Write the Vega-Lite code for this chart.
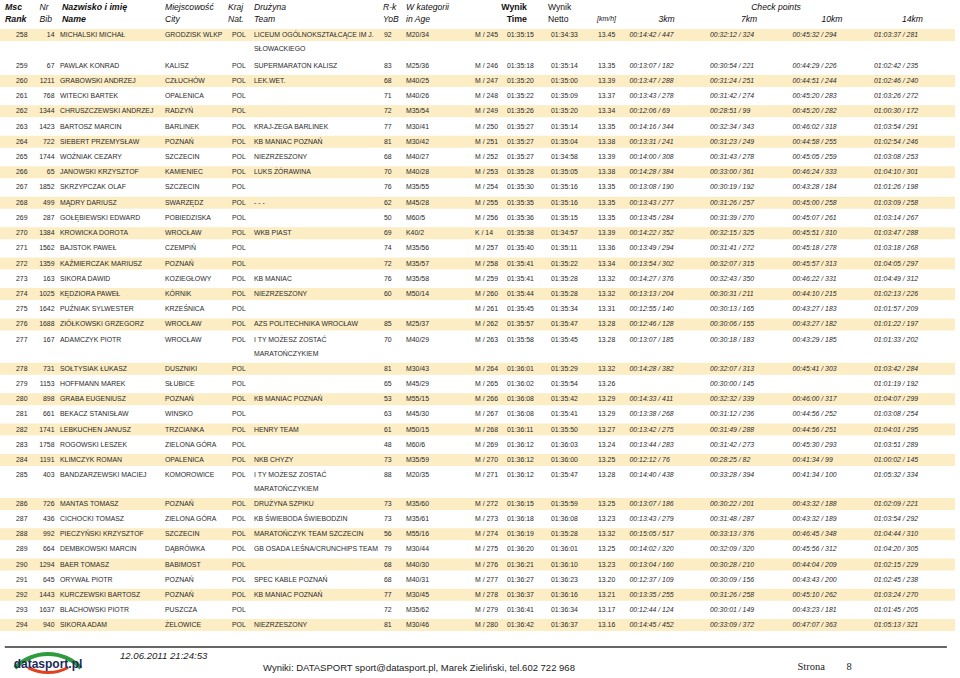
{
  "$schema": "https://vega.github.io/schema/vega-lite/v6.json",
  "width": 960,
  "height": 678,
  "padding": 0,
  "autosize": {"type": "none"},
  "background": "white",
  "config": {"view": {"stroke": null}, "text": {"font": "Liberation Sans", "fontSize": 6.9, "baseline": "middle", "align": "left", "fill": "#2a2a2a"}},
  "datasets": {
    "rows": [
      {"msc": 258, "nr": "14", "name": "MICHALSKI MICHAŁ", "city": "GRODZISK WLKP", "nat": "POL", "team": "LICEUM OGÓLNOKSZTAŁCĄCE IM J.\nSŁOWACKIEGO", "yob": "92", "cat": "M20/34", "mk": "M / 245", "time": "01:35:15", "netto": "01:34:33", "kmh": "13.45", "c3": "00:14:42 / 447", "c7": "00:32:12 / 324", "c10": "00:45:32 / 294", "c14": "01:03:37 / 281"},
      {"msc": 259, "nr": "67", "name": "PAWLAK KONRAD", "city": "KALISZ", "nat": "POL", "team": "SUPERMARATON KALISZ", "yob": "83", "cat": "M25/36", "mk": "M / 246", "time": "01:35:18", "netto": "01:35:14", "kmh": "13.35", "c3": "00:13:07 / 182", "c7": "00:30:54 / 221", "c10": "00:44:29 / 226", "c14": "01:02:42 / 235"},
      {"msc": 260, "nr": "1211", "name": "GRABOWSKI ANDRZEJ", "city": "CZŁUCHÓW", "nat": "POL", "team": "LEK.WET.", "yob": "68", "cat": "M40/25", "mk": "M / 247", "time": "01:35:20", "netto": "01:35:00", "kmh": "13.39", "c3": "00:13:47 / 288", "c7": "00:31:24 / 251", "c10": "00:44:51 / 244", "c14": "01:02:46 / 240"},
      {"msc": 261, "nr": "768", "name": "WITECKI BARTEK", "city": "OPALENICA", "nat": "POL", "team": "", "yob": "71", "cat": "M40/26", "mk": "M / 248", "time": "01:35:22", "netto": "01:35:09", "kmh": "13.37", "c3": "00:13:43 / 278", "c7": "00:31:42 / 274", "c10": "00:45:20 / 283", "c14": "01:03:26 / 272"},
      {"msc": 262, "nr": "1344", "name": "CHRUSZCZEWSKI ANDRZEJ", "city": "RADZYŃ", "nat": "POL", "team": "", "yob": "72", "cat": "M35/54", "mk": "M / 249", "time": "01:35:26", "netto": "01:35:20", "kmh": "13.34", "c3": "00:12:06 / 69", "c7": "00:28:51 / 99", "c10": "00:45:20 / 282", "c14": "01:00:30 / 172"},
      {"msc": 263, "nr": "1423", "name": "BARTOSZ MARCIN", "city": "BARLINEK", "nat": "POL", "team": "KRAJ-ZEGA BARLINEK", "yob": "77", "cat": "M30/41", "mk": "M / 250", "time": "01:35:27", "netto": "01:35:14", "kmh": "13.35", "c3": "00:14:16 / 344", "c7": "00:32:34 / 343", "c10": "00:46:02 / 318", "c14": "01:03:54 / 291"},
      {"msc": 264, "nr": "722", "name": "SIEBERT PRZEMYSŁAW", "city": "POZNAŃ", "nat": "POL", "team": "KB MANIAC POZNAŃ", "yob": "81", "cat": "M30/42", "mk": "M / 251", "time": "01:35:27", "netto": "01:35:04", "kmh": "13.38", "c3": "00:13:31 / 241", "c7": "00:31:23 / 249", "c10": "00:44:58 / 255", "c14": "01:02:54 / 246"},
      {"msc": 265, "nr": "1744", "name": "WOŹNIAK CEZARY", "city": "SZCZECIN", "nat": "POL", "team": "NIEZRZESZONY", "yob": "68", "cat": "M40/27", "mk": "M / 252", "time": "01:35:27", "netto": "01:34:58", "kmh": "13.39", "c3": "00:14:00 / 308", "c7": "00:31:43 / 278", "c10": "00:45:05 / 259", "c14": "01:03:08 / 253"},
      {"msc": 266, "nr": "65", "name": "JANOWSKI KRZYSZTOF", "city": "KAMIENIEC", "nat": "POL", "team": "LUKS ŻÓRAWINA", "yob": "70", "cat": "M40/28", "mk": "M / 253", "time": "01:35:28", "netto": "01:35:05", "kmh": "13.38", "c3": "00:14:28 / 384", "c7": "00:33:00 / 361", "c10": "00:46:24 / 333", "c14": "01:04:10 / 301"},
      {"msc": 267, "nr": "1852", "name": "SKRZYPCZAK OLAF", "city": "SZCZECIN", "nat": "POL", "team": "", "yob": "76", "cat": "M35/55", "mk": "M / 254", "time": "01:35:30", "netto": "01:35:16", "kmh": "13.35", "c3": "00:13:08 / 190", "c7": "00:30:19 / 192", "c10": "00:43:28 / 184", "c14": "01:01:26 / 198"},
      {"msc": 268, "nr": "499", "name": "MĄDRY DARIUSZ", "city": "SWARZĘDZ", "nat": "POL", "team": "- - -", "yob": "62", "cat": "M45/28", "mk": "M / 255", "time": "01:35:35", "netto": "01:35:16", "kmh": "13.35", "c3": "00:13:43 / 277", "c7": "00:31:26 / 257", "c10": "00:45:00 / 258", "c14": "01:03:09 / 258"},
      {"msc": 269, "nr": "287", "name": "GOŁĘBIEWSKI EDWARD", "city": "POBIEDZISKA", "nat": "POL", "team": "", "yob": "50", "cat": "M60/5", "mk": "M / 256", "time": "01:35:36", "netto": "01:35:15", "kmh": "13.35", "c3": "00:13:45 / 284", "c7": "00:31:39 / 270", "c10": "00:45:07 / 261", "c14": "01:03:14 / 267"},
      {"msc": 270, "nr": "1384", "name": "KROWICKA DOROTA", "city": "WROCŁAW", "nat": "POL", "team": "WKB PIAST", "yob": "69", "cat": "K40/2", "mk": "K / 14", "time": "01:35:38", "netto": "01:34:57", "kmh": "13.39", "c3": "00:14:22 / 352", "c7": "00:32:15 / 325", "c10": "00:45:51 / 310", "c14": "01:03:47 / 288"},
      {"msc": 271, "nr": "1562", "name": "BAJSTOK PAWEŁ", "city": "CZEMPIŃ", "nat": "POL", "team": "", "yob": "74", "cat": "M35/56", "mk": "M / 257", "time": "01:35:40", "netto": "01:35:11", "kmh": "13.36", "c3": "00:13:49 / 294", "c7": "00:31:41 / 272", "c10": "00:45:18 / 278", "c14": "01:03:18 / 268"},
      {"msc": 272, "nr": "1359", "name": "KAŹMIERCZAK MARIUSZ", "city": "POZNAŃ", "nat": "POL", "team": "", "yob": "72", "cat": "M35/57", "mk": "M / 258", "time": "01:35:41", "netto": "01:35:22", "kmh": "13.34", "c3": "00:13:54 / 302", "c7": "00:32:07 / 315", "c10": "00:45:57 / 313", "c14": "01:04:05 / 297"},
      {"msc": 273, "nr": "163", "name": "SIKORA DAWID", "city": "KOZIEGŁOWY", "nat": "POL", "team": "KB MANIAC", "yob": "76", "cat": "M35/58", "mk": "M / 259", "time": "01:35:41", "netto": "01:35:28", "kmh": "13.32", "c3": "00:14:27 / 376", "c7": "00:32:43 / 350", "c10": "00:46:22 / 331", "c14": "01:04:49 / 312"},
      {"msc": 274, "nr": "1025", "name": "KĘDZIORA PAWEŁ", "city": "KÓRNIK", "nat": "POL", "team": "NIEZRZESZONY", "yob": "60", "cat": "M50/14", "mk": "M / 260", "time": "01:35:44", "netto": "01:35:28", "kmh": "13.32", "c3": "00:13:13 / 204", "c7": "00:30:31 / 211", "c10": "00:44:10 / 215", "c14": "01:02:13 / 226"},
      {"msc": 275, "nr": "1642", "name": "PUŹNIAK SYLWESTER", "city": "KRZEŚNICA", "nat": "POL", "team": "", "yob": "", "cat": "", "mk": "M / 261", "time": "01:35:45", "netto": "01:35:34", "kmh": "13.31", "c3": "00:12:55 / 140", "c7": "00:30:13 / 165", "c10": "00:43:27 / 183", "c14": "01:01:57 / 209"},
      {"msc": 276, "nr": "1688", "name": "ZIÓŁKOWSKI GRZEGORZ", "city": "WROCŁAW", "nat": "POL", "team": "AZS POLITECHNIKA WROCŁAW", "yob": "85", "cat": "M25/37", "mk": "M / 262", "time": "01:35:57", "netto": "01:35:47", "kmh": "13.28", "c3": "00:12:46 / 128", "c7": "00:30:06 / 155", "c10": "00:43:27 / 182", "c14": "01:01:22 / 197"},
      {"msc": 277, "nr": "167", "name": "ADAMCZYK PIOTR", "city": "WROCŁAW", "nat": "POL", "team": "I TY MOŻESZ ZOSTAĆ\nMARATOŃCZYKIEM", "yob": "70", "cat": "M40/29", "mk": "M / 263", "time": "01:35:58", "netto": "01:35:45", "kmh": "13.28", "c3": "00:13:07 / 185", "c7": "00:30:18 / 183", "c10": "00:43:29 / 185", "c14": "01:01:33 / 202"},
      {"msc": 278, "nr": "731", "name": "SOŁTYSIAK ŁUKASZ", "city": "DUSZNIKI", "nat": "POL", "team": "", "yob": "81", "cat": "M30/43", "mk": "M / 264", "time": "01:36:01", "netto": "01:35:29", "kmh": "13.32", "c3": "00:14:28 / 382", "c7": "00:32:07 / 313", "c10": "00:45:41 / 303", "c14": "01:03:42 / 284"},
      {"msc": 279, "nr": "1153", "name": "HOFFMANN MAREK", "city": "SŁUBICE", "nat": "POL", "team": "", "yob": "65", "cat": "M45/29", "mk": "M / 265", "time": "01:36:02", "netto": "01:35:54", "kmh": "13.26", "c3": "", "c7": "00:30:00 / 145", "c10": "", "c14": "01:01:19 / 192"},
      {"msc": 280, "nr": "898", "name": "GRABA EUGENIUSZ", "city": "POZNAŃ", "nat": "POL", "team": "KB MANIAC POZNAŃ", "yob": "53", "cat": "M55/15", "mk": "M / 266", "time": "01:36:08", "netto": "01:35:42", "kmh": "13.29", "c3": "00:14:33 / 411", "c7": "00:32:32 / 339", "c10": "00:46:00 / 317", "c14": "01:04:07 / 299"},
      {"msc": 281, "nr": "661", "name": "BEKACZ STANISŁAW", "city": "WINSKO", "nat": "POL", "team": "", "yob": "63", "cat": "M45/30", "mk": "M / 267", "time": "01:36:08", "netto": "01:35:41", "kmh": "13.29", "c3": "00:13:38 / 268", "c7": "00:31:12 / 236", "c10": "00:44:56 / 252", "c14": "01:03:08 / 254"},
      {"msc": 282, "nr": "1741", "name": "LEBKUCHEN JANUSZ", "city": "TRZCIANKA", "nat": "POL", "team": "HENRY TEAM", "yob": "61", "cat": "M50/15", "mk": "M / 268", "time": "01:36:11", "netto": "01:35:50", "kmh": "13.27", "c3": "00:13:42 / 275", "c7": "00:31:49 / 288", "c10": "00:44:56 / 251", "c14": "01:04:01 / 295"},
      {"msc": 283, "nr": "1758", "name": "ROGOWSKI LESZEK", "city": "ZIELONA GÓRA", "nat": "POL", "team": "", "yob": "48", "cat": "M60/6", "mk": "M / 269", "time": "01:36:12", "netto": "01:36:03", "kmh": "13.24", "c3": "00:13:44 / 283", "c7": "00:31:42 / 273", "c10": "00:45:30 / 293", "c14": "01:03:51 / 289"},
      {"msc": 284, "nr": "1191", "name": "KLIMCZYK ROMAN", "city": "OPALENICA", "nat": "POL", "team": "NKB CHYZY", "yob": "73", "cat": "M35/59", "mk": "M / 270", "time": "01:36:12", "netto": "01:36:00", "kmh": "13.25", "c3": "00:12:12 / 76", "c7": "00:28:25 / 82", "c10": "00:41:34 / 99", "c14": "01:00:02 / 145"},
      {"msc": 285, "nr": "403", "name": "BANDZARZEWSKI MACIEJ", "city": "KOMOROWICE", "nat": "POL", "team": "I TY MOŻESZ ZOSTAĆ\nMARATOŃCZYKIEM", "yob": "88", "cat": "M20/35", "mk": "M / 271", "time": "01:36:12", "netto": "01:35:47", "kmh": "13.28", "c3": "00:14:40 / 438", "c7": "00:33:28 / 394", "c10": "00:41:34 / 100", "c14": "01:05:32 / 334"},
      {"msc": 286, "nr": "726", "name": "MANTAS TOMASZ", "city": "POZNAŃ", "nat": "POL", "team": "DRUŻYNA SZPIKU", "yob": "73", "cat": "M35/60", "mk": "M / 272", "time": "01:36:15", "netto": "01:35:59", "kmh": "13.25", "c3": "00:13:07 / 186", "c7": "00:30:22 / 201", "c10": "00:43:32 / 188", "c14": "01:02:09 / 221"},
      {"msc": 287, "nr": "436", "name": "CICHOCKI TOMASZ", "city": "ZIELONA GÓRA", "nat": "POL", "team": "KB ŚWIEBODA ŚWIEBODZIN", "yob": "73", "cat": "M35/61", "mk": "M / 273", "time": "01:36:18", "netto": "01:36:08", "kmh": "13.23", "c3": "00:13:43 / 279", "c7": "00:31:48 / 287", "c10": "00:43:32 / 189", "c14": "01:03:54 / 292"},
      {"msc": 288, "nr": "992", "name": "PIECZYŃSKI KRZYSZTOF", "city": "SZCZECIN", "nat": "POL", "team": "MARATOŃCZYK TEAM SZCZECIN", "yob": "56", "cat": "M55/16", "mk": "M / 274", "time": "01:36:19", "netto": "01:35:28", "kmh": "13.32", "c3": "00:15:05 / 517", "c7": "00:33:13 / 376", "c10": "00:46:45 / 348", "c14": "01:04:44 / 310"},
      {"msc": 289, "nr": "664", "name": "DEMBKOWSKI MARCIN", "city": "DĄBRÓWKA", "nat": "POL", "team": "GB OSADA LEŚNA/CRUNCHIPS TEAM", "yob": "79", "cat": "M30/44", "mk": "M / 275", "time": "01:36:20", "netto": "01:36:01", "kmh": "13.25", "c3": "00:14:02 / 320", "c7": "00:32:09 / 320", "c10": "00:45:56 / 312", "c14": "01:04:20 / 305"},
      {"msc": 290, "nr": "1294", "name": "BAER TOMASZ", "city": "BABIMOST", "nat": "POL", "team": "", "yob": "68", "cat": "M40/30", "mk": "M / 276", "time": "01:36:21", "netto": "01:36:10", "kmh": "13.23", "c3": "00:13:04 / 160", "c7": "00:30:28 / 210", "c10": "00:44:04 / 209", "c14": "01:02:15 / 229"},
      {"msc": 291, "nr": "645", "name": "ORYWAŁ PIOTR", "city": "POZNAŃ", "nat": "POL", "team": "SPEC KABLE POZNAŃ", "yob": "68", "cat": "M40/31", "mk": "M / 277", "time": "01:36:27", "netto": "01:36:23", "kmh": "13.20", "c3": "00:12:37 / 109", "c7": "00:30:09 / 156", "c10": "00:43:43 / 200", "c14": "01:02:45 / 238"},
      {"msc": 292, "nr": "1443", "name": "KURCZEWSKI BARTOSZ", "city": "POZNAŃ", "nat": "POL", "team": "KB MANIAC POZNAŃ", "yob": "77", "cat": "M30/45", "mk": "M / 278", "time": "01:36:37", "netto": "01:36:16", "kmh": "13.21", "c3": "00:13:35 / 255", "c7": "00:31:26 / 258", "c10": "00:45:10 / 262", "c14": "01:03:24 / 270"},
      {"msc": 293, "nr": "1637", "name": "BLACHOWSKI PIOTR", "city": "PUSZCZA", "nat": "POL", "team": "", "yob": "72", "cat": "M35/62", "mk": "M / 279", "time": "01:36:41", "netto": "01:36:34", "kmh": "13.17", "c3": "00:12:44 / 124", "c7": "00:30:01 / 149", "c10": "00:43:23 / 181", "c14": "01:01:45 / 205"},
      {"msc": 294, "nr": "940", "name": "SIKORA ADAM", "city": "ŻELOWICE", "nat": "POL", "team": "NIEZRZESZONY", "yob": "81", "cat": "M30/46", "mk": "M / 280", "time": "01:36:42", "netto": "01:36:37", "kmh": "13.16", "c3": "00:14:45 / 452", "c7": "00:33:09 / 372", "c10": "00:47:07 / 363", "c14": "01:05:13 / 321"}
    ]
  },
  "data": {"name": "rows"},
  "layer": [
    {
      "transform": [{"filter": "datum.msc % 2 == 0"}],
      "mark": {"type": "rule", "color": "#FCEDC5", "strokeWidth": 12, "strokeCap": "butt"},
      "encoding": {
        "x": {"datum": -1, "type": "quantitative", "scale": {"domain": [-1, 0, 1, 2, 3, 4, 5, 6, 7, 8, 9, 10, 11, 12, 13, 14, 15, 16], "range": [0, 16, 54.5, 60, 165, 232, 254, 384, 406, 475, 507, 551, 598, 629.5, 710, 792.5, 874, 955], "zero": false, "nice": false}, "axis": null},
        "x2": {"datum": 16},
        "y": {"field": "msc", "type": "quantitative", "scale": {"domain": [256, 257, 258, 259, 277, 278, 285, 286, 294, 295, 296, 297], "range": [7, 19, 35, 65.7, 339.7, 368.7, 475.3, 504, 625, 647, 656, 668], "zero": false, "nice": false}, "axis": null}
      }
    },
    {"mark": {"type": "text"}, "encoding": {"x": {"datum": 0, "type": "quantitative"}, "y": {"field": "msc", "type": "quantitative"}, "text": {"field": "msc", "type": "nominal"}}},
    {"mark": {"type": "text", "align": "right"}, "encoding": {"x": {"datum": 1, "type": "quantitative"}, "y": {"field": "msc", "type": "quantitative"}, "text": {"field": "nr", "type": "nominal"}}},
    {"mark": {"type": "text"}, "encoding": {"x": {"datum": 2, "type": "quantitative"}, "y": {"field": "msc", "type": "quantitative"}, "text": {"field": "name", "type": "nominal"}}},
    {"mark": {"type": "text"}, "encoding": {"x": {"datum": 3, "type": "quantitative"}, "y": {"field": "msc", "type": "quantitative"}, "text": {"field": "city", "type": "nominal"}}},
    {"mark": {"type": "text"}, "encoding": {"x": {"datum": 4, "type": "quantitative"}, "y": {"field": "msc", "type": "quantitative"}, "text": {"field": "nat", "type": "nominal"}}},
    {"mark": {"type": "text", "lineBreak": "\n", "lineHeight": 14}, "encoding": {"x": {"datum": 5, "type": "quantitative"}, "y": {"field": "msc", "type": "quantitative"}, "text": {"field": "team", "type": "nominal"}}},
    {"mark": {"type": "text"}, "encoding": {"x": {"datum": 6, "type": "quantitative"}, "y": {"field": "msc", "type": "quantitative"}, "text": {"field": "yob", "type": "nominal"}}},
    {"mark": {"type": "text"}, "encoding": {"x": {"datum": 7, "type": "quantitative"}, "y": {"field": "msc", "type": "quantitative"}, "text": {"field": "cat", "type": "nominal"}}},
    {"mark": {"type": "text"}, "encoding": {"x": {"datum": 8, "type": "quantitative"}, "y": {"field": "msc", "type": "quantitative"}, "text": {"field": "mk", "type": "nominal"}}},
    {"mark": {"type": "text"}, "encoding": {"x": {"datum": 9, "type": "quantitative"}, "y": {"field": "msc", "type": "quantitative"}, "text": {"field": "time", "type": "nominal"}}},
    {"mark": {"type": "text"}, "encoding": {"x": {"datum": 10, "type": "quantitative"}, "y": {"field": "msc", "type": "quantitative"}, "text": {"field": "netto", "type": "nominal"}}},
    {"mark": {"type": "text"}, "encoding": {"x": {"datum": 11, "type": "quantitative"}, "y": {"field": "msc", "type": "quantitative"}, "text": {"field": "kmh", "type": "nominal"}}},
    {"mark": {"type": "text", "fontStyle": "italic"}, "encoding": {"x": {"datum": 12, "type": "quantitative"}, "y": {"field": "msc", "type": "quantitative"}, "text": {"field": "c3", "type": "nominal"}}},
    {"mark": {"type": "text", "fontStyle": "italic"}, "encoding": {"x": {"datum": 13, "type": "quantitative"}, "y": {"field": "msc", "type": "quantitative"}, "text": {"field": "c7", "type": "nominal"}}},
    {"mark": {"type": "text", "fontStyle": "italic"}, "encoding": {"x": {"datum": 14, "type": "quantitative"}, "y": {"field": "msc", "type": "quantitative"}, "text": {"field": "c10", "type": "nominal"}}},
    {"mark": {"type": "text", "fontStyle": "italic"}, "encoding": {"x": {"datum": 15, "type": "quantitative"}, "y": {"field": "msc", "type": "quantitative"}, "text": {"field": "c14", "type": "nominal"}}},

    {"data": {"values": [{}]}, "mark": {"type": "text", "fontSize": 8.8, "fontStyle": "italic", "fontWeight": "bold", "lineHeight": 12, "dx": -11, "fill": "#111"}, "encoding": {"x": {"datum": 0, "type": "quantitative"}, "y": {"datum": 256, "type": "quantitative"}, "text": {"value": ["Msc", "Rank"]}}},
    {"data": {"values": [{}]}, "mark": {"type": "text", "fontSize": 8.6, "fontStyle": "italic", "lineHeight": 12, "dx": -15, "fill": "#111"}, "encoding": {"x": {"datum": 1, "type": "quantitative"}, "y": {"datum": 256, "type": "quantitative"}, "text": {"value": ["Nr", "Bib"]}}},
    {"data": {"values": [{}]}, "mark": {"type": "text", "fontSize": 8.8, "fontStyle": "italic", "fontWeight": "bold", "lineHeight": 12, "dx": 2, "fill": "#111"}, "encoding": {"x": {"datum": 2, "type": "quantitative"}, "y": {"datum": 256, "type": "quantitative"}, "text": {"value": ["Nazwisko i imię", "Name"]}}},
    {"data": {"values": [{}]}, "mark": {"type": "text", "fontSize": 8.6, "fontStyle": "italic", "lineHeight": 12, "dx": 0, "fill": "#111"}, "encoding": {"x": {"datum": 3, "type": "quantitative"}, "y": {"datum": 256, "type": "quantitative"}, "text": {"value": ["Miejscowość", "City"]}}},
    {"data": {"values": [{}]}, "mark": {"type": "text", "fontSize": 8.6, "fontStyle": "italic", "lineHeight": 12, "dx": -4, "fill": "#111"}, "encoding": {"x": {"datum": 4, "type": "quantitative"}, "y": {"datum": 256, "type": "quantitative"}, "text": {"value": ["Kraj", "Nat."]}}},
    {"data": {"values": [{}]}, "mark": {"type": "text", "fontSize": 8.6, "fontStyle": "italic", "lineHeight": 12, "dx": 0, "fill": "#111"}, "encoding": {"x": {"datum": 5, "type": "quantitative"}, "y": {"datum": 256, "type": "quantitative"}, "text": {"value": ["Drużyna", "Team"]}}},
    {"data": {"values": [{}]}, "mark": {"type": "text", "fontSize": 8.6, "fontStyle": "italic", "lineHeight": 12, "dx": -1, "fill": "#111"}, "encoding": {"x": {"datum": 6, "type": "quantitative"}, "y": {"datum": 256, "type": "quantitative"}, "text": {"value": ["R-k", "YoB"]}}},
    {"data": {"values": [{}]}, "mark": {"type": "text", "fontSize": 8.6, "fontStyle": "italic", "lineHeight": 12, "dx": 0, "fill": "#111"}, "encoding": {"x": {"datum": 7, "type": "quantitative"}, "y": {"datum": 256, "type": "quantitative"}, "text": {"value": ["W kategorii", "in Age"]}}},
    {"data": {"values": [{}]}, "mark": {"type": "text", "fontSize": 8.8, "fontWeight": "bold", "align": "right", "lineHeight": 12, "dx": 20, "fill": "#111"}, "encoding": {"x": {"datum": 9, "type": "quantitative"}, "y": {"datum": 256, "type": "quantitative"}, "text": {"value": ["Wynik", "Time"]}}},
    {"data": {"values": [{}]}, "mark": {"type": "text", "fontSize": 8.6, "lineHeight": 12, "dx": -3, "fill": "#111"}, "encoding": {"x": {"datum": 10, "type": "quantitative"}, "y": {"datum": 256, "type": "quantitative"}, "text": {"value": ["Wynik", "Netto"]}}},
    {"data": {"values": [{}]}, "mark": {"type": "text", "fontSize": 7, "fontStyle": "italic", "dx": -1, "fill": "#111"}, "encoding": {"x": {"datum": 11, "type": "quantitative"}, "y": {"datum": 257, "type": "quantitative"}, "text": {"value": "[km/h]"}}},
    {"data": {"values": [{}]}, "mark": {"type": "text", "fontSize": 8.6, "fontStyle": "italic", "align": "center", "dx": 0, "fill": "#111"}, "encoding": {"x": {"datum": 13.8, "type": "quantitative"}, "y": {"datum": 256, "type": "quantitative"}, "text": {"value": "Check points"}}},
    {"data": {"values": [{}]}, "mark": {"type": "text", "fontSize": 8.6, "fontStyle": "italic", "dx": 29, "fill": "#111"}, "encoding": {"x": {"datum": 12, "type": "quantitative"}, "y": {"datum": 257, "type": "quantitative"}, "text": {"value": "3km"}}},
    {"data": {"values": [{}]}, "mark": {"type": "text", "fontSize": 8.6, "fontStyle": "italic", "dx": 31, "fill": "#111"}, "encoding": {"x": {"datum": 13, "type": "quantitative"}, "y": {"datum": 257, "type": "quantitative"}, "text": {"value": "7km"}}},
    {"data": {"values": [{}]}, "mark": {"type": "text", "fontSize": 8.6, "fontStyle": "italic", "dx": 29, "fill": "#111"}, "encoding": {"x": {"datum": 14, "type": "quantitative"}, "y": {"datum": 257, "type": "quantitative"}, "text": {"value": "10km"}}},
    {"data": {"values": [{}]}, "mark": {"type": "text", "fontSize": 8.6, "fontStyle": "italic", "dx": 28, "fill": "#111"}, "encoding": {"x": {"datum": 15, "type": "quantitative"}, "y": {"datum": 257, "type": "quantitative"}, "text": {"value": "14km"}}},

    {"data": {"values": [{}]}, "mark": {"type": "rule", "color": "#666666", "strokeWidth": 2}, "encoding": {"x": {"datum": -0.7, "type": "quantitative"}, "x2": {"datum": 15.9}, "y": {"datum": 295, "type": "quantitative"}}},
    {"data": {"values": [{}]}, "mark": {"type": "text", "fontSize": 9.6, "fontStyle": "italic", "dx": 60, "fill": "#222"}, "encoding": {"x": {"datum": 2, "type": "quantitative"}, "y": {"datum": 296, "type": "quantitative"}, "text": {"value": "12.06.2011 21:24:53"}}},
    {"data": {"values": [{}]}, "mark": {"type": "text", "fontSize": 9.5, "dx": 9, "fill": "#222"}, "encoding": {"x": {"datum": 5, "type": "quantitative"}, "y": {"datum": 297, "type": "quantitative"}, "text": {"value": "Wyniki: DATASPORT sport@datasport.pl, Marek Zieliński, tel.602 722 968"}}},
    {"data": {"values": [{}]}, "mark": {"type": "text", "font": "Liberation Serif", "fontSize": 10.5, "dx": 5, "dy": -1, "fill": "#222"}, "encoding": {"x": {"datum": 14, "type": "quantitative"}, "y": {"datum": 297, "type": "quantitative"}, "text": {"value": "Strona"}}},
    {"data": {"values": [{}]}, "mark": {"type": "text", "font": "Liberation Serif", "fontSize": 10.5, "dx": 54, "dy": -1, "fill": "#222"}, "encoding": {"x": {"datum": 14, "type": "quantitative"}, "y": {"datum": 297, "type": "quantitative"}, "text": {"value": "8"}}},
    {"data": {"values": [{}]}, "mark": {"type": "arc", "innerRadius": 44, "outerRadius": 48, "theta": -0.8, "theta2": 0.8, "color": "#2E9B3C"}, "encoding": {"x": {"datum": 0.83, "type": "quantitative"}, "y": {"datum": 299.67, "type": "quantitative"}}},
    {"data": {"values": [{}]}, "mark": {"type": "arc", "innerRadius": 41, "outerRadius": 44, "theta": 2.65, "theta2": 3.63, "color": "#E0401E"}, "encoding": {"x": {"datum": 0.83, "type": "quantitative"}, "y": {"datum": 294.23, "type": "quantitative"}}},
    {"data": {"values": [{}]}, "mark": {"type": "text", "font": "Liberation Sans", "fontSize": 12, "fontWeight": "bold", "align": "center", "fill": "#1B2A5E"}, "encoding": {"x": {"datum": 0.83, "type": "quantitative"}, "y": {"datum": 296.7, "type": "quantitative"}, "text": {"value": "datasport.pl"}}}
  ]
}
